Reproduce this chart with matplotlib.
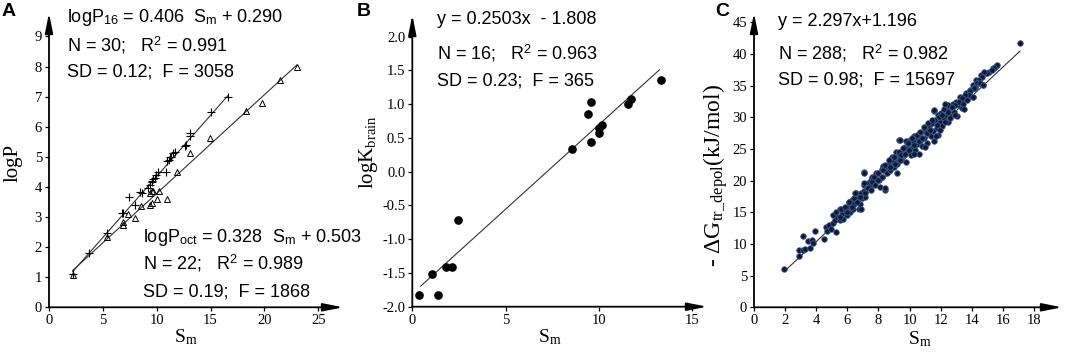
import matplotlib
matplotlib.use("Agg")
import matplotlib.pyplot as plt
import numpy as np

plt.rcParams['mathtext.fontset'] = 'custom'
plt.rcParams['mathtext.rm'] = 'Liberation Serif'
plt.rcParams['mathtext.it'] = 'Liberation Serif:italic'
plt.rcParams['mathtext.sf'] = 'Liberation Sans'
plt.rcParams['axes.unicode_minus'] = False

# ---------------- Panel A data ----------------
a_plus_x = [2.2, 3.75, 5.35, 6.75, 6.9, 7.46, 7.99, 8.45, 8.6, 9.22, 9.38, 9.54, 9.69, 9.8, 9.94,
            10.15, 10.9, 11.1, 11.23, 11.35, 11.48, 11.7, 12.6, 12.72, 13.09, 13.09, 15.0, 16.6, 9.6, 11.0]
a_plus_y = [1.11, 1.8, 2.46, 3.13, 3.13, 3.66, 3.4, 3.84, 3.79, 3.96, 4.07, 4.18, 4.26, 4.3, 4.4,
            4.51, 4.51, 4.88, 4.99, 5.0, 5.12, 5.17, 5.35, 5.4, 5.7, 5.79, 6.5, 7.0, 4.2, 4.85]
a_tri_x = [2.2, 5.35, 6.84, 6.9, 7.36, 7.99, 8.5, 9.38, 9.38, 9.54, 9.54, 10.0, 10.18, 10.93,
           11.86, 13.09, 14.95, 18.25, 19.8, 21.45, 23.0, 9.7]
a_tri_y = [1.06, 2.35, 2.74, 2.85, 3.09, 2.96, 3.37, 3.4, 3.81, 3.48, 3.88, 3.59, 3.88, 3.59,
           4.48, 5.12, 5.62, 6.53, 6.8, 7.56, 8.0, 3.85]
a_fit16 = (0.406, 0.290)
a_fit16_range = (2.2, 16.6)
a_fitoct = (0.328, 0.503)
a_fitoct_range = (2.2, 23.0)
a_xticks = [0, 5, 10, 15, 20, 25]
a_yticks = [0, 1, 2, 3, 4, 5, 6, 7, 8, 9]

# ---------------- Panel B data ----------------
b_x = [0.38, 1.07, 1.4, 1.79, 2.15, 2.47, 8.57, 9.4, 9.6, 9.6, 9.99, 10.02, 10.17, 11.56, 11.74, 13.35]
b_y = [-1.83, -1.52, -1.82, -1.41, -1.41, -0.72, 0.33, 0.85, 1.03, 0.44, 0.57, 0.64, 0.69, 1.0, 1.08, 1.36]
b_fit = (0.2503, -1.808)
b_fit_range = (0.45, 13.25)
b_xticks = [0, 5, 10, 15]
b_yticks = [-2.0, -1.5, -1.0, -0.5, 0.0, 0.5, 1.0, 1.5, 2.0]

# ---------------- Panel C data ----------------
c_x = [1.95, 2.9, 2.9, 3.15, 3.17, 3.28, 3.5, 3.6, 3.75, 3.8, 3.93, 4.5, 4.6, 4.7, 4.85, 4.95, 5.05,
       5.2, 5.3, 5.35, 5.5, 5.55, 5.65, 5.75, 5.85, 5.95, 6.0, 6.1, 6.2, 6.3, 6.35, 6.45, 6.5, 6.55,
       6.7, 6.75, 6.8, 6.9, 6.93, 7.05, 7.05, 7.1, 7.15, 7.25, 7.3, 7.45, 7.55, 7.6, 7.65, 7.7, 7.8,
       7.85, 8.0, 8.05, 8.2, 8.2, 8.3, 8.4, 8.5, 8.55, 8.65, 8.7, 8.8, 8.8, 8.9, 8.93, 9.1, 9.15, 9.2,
       9.3, 9.35, 9.4, 9.45, 9.55, 9.6, 9.7, 9.75, 9.85, 9.95, 10.0, 10.05, 10.1, 10.2, 10.25, 10.3,
       10.35, 10.5, 10.55, 10.6, 10.65, 10.7, 10.8, 10.9, 10.95, 11.0, 11.1, 11.2, 11.25, 11.35, 11.45,
       11.5, 11.55, 11.6, 11.65, 11.75, 11.8, 11.85, 11.95, 12.05, 12.1, 12.2, 12.25, 12.35, 12.45,
       12.5, 12.6, 12.75, 12.85, 13.0, 13.05, 13.15, 13.25, 13.35, 13.45, 13.6, 13.75, 13.9, 14.05,
       14.1, 14.2, 14.3, 14.5, 14.6, 14.7, 14.9, 15.1, 15.35, 15.55, 17.1,
       5.1, 5.3, 5.5, 5.6, 5.85, 5.95, 6.1, 6.3, 6.4, 6.5, 6.6, 6.8, 6.9, 7.04, 7.1, 7.15, 7.3, 7.5,
       7.6, 7.7, 7.8, 7.96, 8.0, 8.1, 8.2, 8.3, 8.45, 8.55, 8.65, 8.75, 8.86, 8.97, 9.08, 9.2, 9.3,
       9.4, 9.5, 9.68, 9.76,
       8.43, 8.65, 8.76, 8.97, 9.08, 9.3, 9.4, 9.47, 9.6, 9.72, 9.9, 9.98, 10.15, 10.26, 10.3, 10.47,
       10.58, 10.7, 10.8, 10.9, 11.0, 11.1, 11.2, 11.33, 11.44, 11.55, 11.7, 11.76, 11.87, 11.98,
       12.08, 12.2, 12.3, 12.4, 12.5, 12.6, 12.77, 12.94,
       15.62, 15.45, 15.3, 14.98, 14.77, 14.66, 14.45, 14.34, 14.55, 14.23, 14.12, 14.72, 13.9, 13.8,
       14.08, 13.59, 13.37, 13.7, 13.16, 13.43, 12.94, 12.5, 12.3, 12.72, 13.48]
c_y = [6.0, 8.1, 9.05, 9.05, 11.3, 9.15, 10.5, 9.3, 10.6, 10.2, 12.0, 10.8, 12.7, 12.1, 13.0, 12.3, 13.3,
       13.8, 11.95, 14.3, 13.8, 15.6, 14.8, 14.0, 15.3, 14.6, 15.9, 16.7, 15.1, 16.95, 15.6, 16.3, 17.5,
       18.1, 17.05, 15.5, 16.3, 18.0, 17.2, 18.3, 21.3, 19.3, 17.5, 18.8, 19.7, 19.2, 20.1, 20.6, 19.7,
       20.6, 19.8, 21.2, 21.2, 20.1, 21.9, 20.6, 22.4, 18.6, 22.2, 21.4, 22.7, 21.6, 23.2, 22.2, 23.8,
       22.6, 23.0, 24.6, 21.2, 23.8, 26.5, 24.4, 23.3, 24.8, 24.1, 25.4, 23.0, 24.6, 25.8, 25.0, 26.4,
       24.1, 25.4, 26.2, 27.0, 24.8, 25.8, 26.7, 24.2, 27.5, 26.2, 25.5, 27.8, 26.7, 28.2, 25.9, 27.5,
       28.6, 27.0, 29.1, 27.8, 31.0, 26.2, 29.6, 28.3, 30.4, 27.3, 29.3, 30.7, 28.6, 29.9, 31.5, 30.4,
       29.3, 31.2, 30.2, 31.7, 30.9, 32.5, 30.2, 32.0, 33.2, 31.5, 32.8, 33.8, 33.0, 34.4, 33.3, 35.2,
       34.6, 35.9, 35.4, 36.7, 35.2, 37.0, 37.2, 37.8, 38.1, 41.8,
       14.6, 15.1, 14.3, 15.6, 15.9, 15.1, 16.7, 15.9, 17.2, 18.0, 16.7, 17.5, 15.6, 19.6, 21.2, 18.0,
       18.8, 18.5, 19.8, 20.6, 19.3, 20.1, 21.2, 19.05, 20.6, 21.7, 18.8, 21.2, 22.7, 21.7, 23.3, 22.2,
       23.8, 22.7, 24.3, 23.3, 24.6, 25.1, 26.2,
       22.5, 23.3, 22.2, 23.8, 22.7, 24.6, 26.4, 24.1, 25.1, 24.3, 25.9, 24.8, 26.7, 25.6, 24.3, 27.2,
       26.2, 27.7, 26.7, 28.5, 25.4, 27.5, 29.1, 28.0, 29.6, 31.2, 27.0, 28.8, 30.1, 28.0, 30.4, 31.4,
       29.3, 32.0, 30.9, 29.9, 32.2, 30.4,
       38.3, 37.8, 37.5, 37.0, 37.2, 36.4, 35.9, 35.4, 35.4, 34.8, 34.6, 35.1, 34.1, 33.5, 33.3, 33.5,
       33.0, 32.7, 32.5, 32.2, 32.0, 32.0, 32.2, 31.7, 31.4]
c_fit = (2.297, 1.196)
c_fit_range = (2.0, 17.1)
c_xticks = [0, 2, 4, 6, 8, 10, 12, 14, 16, 18]
c_yticks = [0, 5, 10, 15, 20, 25, 30, 35, 40, 45]

W, H = 1065, 353
fig = plt.figure(figsize=(W / 100, H / 100), dpi=100)

SERIF = 'Liberation Serif'
SANS = 'Liberation Sans'


def make_axes(left_px, right_px, top_px, bottom_px=307.3):
    return fig.add_axes([left_px / W, (H - bottom_px) / H, (right_px - left_px) / W,
                         (bottom_px - top_px) / H])


def style(ax, xticks, yticks, yfmt=None):
    for s in ax.spines.values():
        s.set_visible(False)
    ax.set_xticks(xticks)
    ax.set_yticks(yticks)
    if yfmt:
        ax.set_yticklabels([yfmt % v for v in yticks])
    ax.tick_params(direction='out', length=3, width=0.9, labelsize=10.5, pad=2)
    for lab in ax.get_xticklabels() + ax.get_yticklabels():
        lab.set_fontfamily(SERIF)
    ax.patch.set_alpha(0)
    ap = dict(arrowstyle='-|>,head_length=1.0,head_width=0.2', color='k', lw=1.3,
              mutation_scale=12, shrinkA=0, shrinkB=0)
    ax.annotate('', xy=(1, 0), xytext=(0, 0), xycoords='axes fraction', arrowprops=ap,
                annotation_clip=False)
    ax.annotate('', xy=(0, 1), xytext=(0, 0), xycoords='axes fraction', arrowprops=ap,
                annotation_clip=False)


# ---------------- Panel A ----------------
axA = make_axes(49, 343, 13)
axA.set_xlim(0, 27.3)
axA.set_ylim(0, 9.78)
xx = np.array(a_fit16_range)
axA.plot(xx, a_fit16[0] * xx + a_fit16[1], color='#333333', lw=0.8)
xx = np.array(a_fitoct_range)
axA.plot(xx, a_fitoct[0] * xx + a_fitoct[1], color='#333333', lw=0.8)
axA.plot(a_plus_x, a_plus_y, linestyle='none', marker='+', ms=6, mew=0.8, color='k')
axA.plot(a_tri_x, a_tri_y, linestyle='none', marker='^', ms=4.5, mew=0.7, mfc='none', mec='k')
style(axA, a_xticks, a_yticks)

# ---------------- Panel B ----------------
axB = make_axes(412.3, 707, 15, 306.7)
axB.set_xlim(0, 15.8)
axB.set_ylim(-2.0, 2.32)
xx = np.array(b_fit_range)
axB.plot(xx, b_fit[0] * xx + b_fit[1], color='#333333', lw=0.8)
axB.plot(b_x, b_y, linestyle='none', marker='o', ms=5.2, color='k')
style(axB, b_xticks, b_yticks, '%.1f')

# ---------------- Panel C ----------------
axC = make_axes(754, 1062, 13)
axC.set_xlim(0, 19.8)
axC.set_ylim(0, 46.5)
xx = np.array(c_fit_range)
axC.plot(xx, c_fit[0] * xx + c_fit[1], color='#333333', lw=0.8, zorder=1)
axC.plot(c_x, c_y, linestyle='none', marker='o', ms=4.0, mfc='#0e1a35', mec='#3f5c8e',
         mew=0.6, zorder=2)
style(axC, c_xticks, c_yticks)


def ftext(x, y, s, **kw):
    fig.text(x / W, 1 - y / H, s, **kw)


EQ = dict(fontfamily=SANS, fontsize=13, va='center', ha='left')
ftext(67, 17, r'logP$_{\mathsf{16}}$ = 0.406  S$_{\mathsf{m}}$ + 0.290', **EQ)
ftext(67, 45, r'N = 30;   R$^{\mathsf{2}}$ = 0.991', **EQ)
ftext(67, 72, 'SD = 0.12;  F = 3058', **EQ)
ftext(143, 237, r'logP$_{\mathsf{oct}}$ = 0.328  S$_{\mathsf{m}}$ + 0.503', **EQ)
ftext(143, 263, r'N = 22;   R$^{\mathsf{2}}$ = 0.989', **EQ)
ftext(143, 292, 'SD = 0.19;  F = 1868', **EQ)

ftext(437, 20, 'y = 0.2503x  - 1.808', **EQ)
ftext(437, 53, r'N = 16;   R$^{\mathsf{2}}$ = 0.963', **EQ)
ftext(437, 81, 'SD = 0.23;  F = 365', **EQ)

ftext(778, 22, 'y = 2.297x+1.196', **EQ)
ftext(778, 53, r'N = 288;   R$^{\mathsf{2}}$ = 0.982', **EQ)
ftext(778, 80, 'SD = 0.98;  F = 15697', **EQ)

PL = dict(fontfamily=SANS, fontsize=14, fontweight='bold', va='center', ha='left')
ftext(2, 11, 'A', **PL)
ftext(357, 11, 'B', **PL)
ftext(715, 11, 'C', **PL)

LAB = dict(fontfamily=SERIF, fontsize=14, va='center', ha='center')
ftext(186, 337, r'S$_{\mathrm{m}}$', **LAB)
ftext(550, 337, r'S$_{\mathrm{m}}$', **LAB)
ftext(920, 339, r'S$_{\mathrm{m}}$', **LAB)
ftext(13, 163, 'logP', rotation=90, **{**LAB, 'fontsize': 15})
ftext(369, 152, r'logK$_{\mathrm{brain}}$', rotation=90, **{**LAB, 'fontsize': 15})
ftext(716, 176, r'- ΔG$_{\mathrm{tr\_depol}}$(kJ/mol)', rotation=90, **{**LAB, 'fontsize': 17})

fig.savefig('out.png', dpi=100)
